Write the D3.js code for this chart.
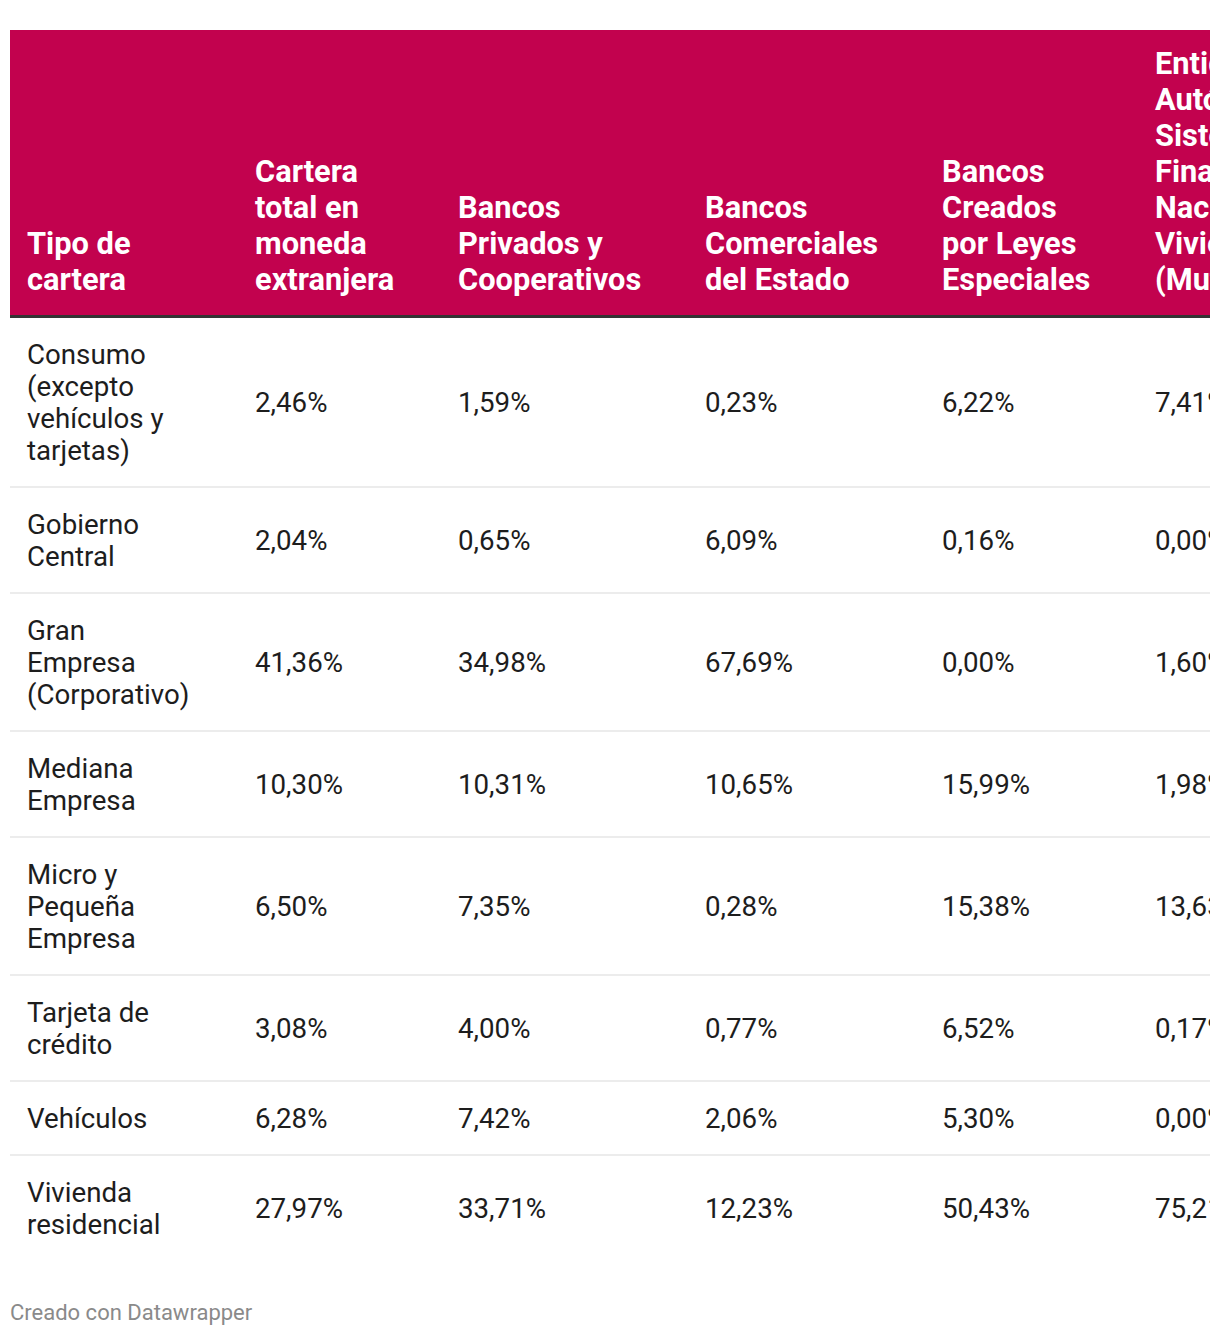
<!DOCTYPE html>
<html>
<head>
<meta charset="utf-8">
<script src="https://cdn.jsdelivr.net/npm/d3@7"></script>
<style>
  html, body { margin: 0; padding: 0; background: #fff; }
  body { width: 1220px; height: 1336px; position: relative; font-family: Roboto, "Noto Sans", sans-serif; overflow: hidden; }
  #wrap { position: absolute; left: 10px; top: 30px; width: 1200px; overflow: hidden; }
  table { border-collapse: collapse; table-layout: fixed; }
  th { background: #c2024e; color: #fff; font-weight: 700; font-size: 30.8px; line-height: 36px;
       text-align: left; vertical-align: bottom; padding: 16px 6px 17px 17px; border-bottom: 3px solid #333; }
  td { color: #1d1d1d; font-size: 27.7px; line-height: 32px; text-align: left; vertical-align: middle;
       padding: 21px 6px 19px 17px; border-bottom: 2px solid #ececec; }
  tr:last-child td { border-bottom: none; }
  #foot { position: absolute; left: 10px; top: 1300px; font-size: 22px; color: #8a8a8a; }
</style>
</head>
<body>
<div id="wrap"></div>
<div id="foot">Creado con Datawrapper</div>
<script>
// Column headers (lines as wrapped in the reference)
const headers = [
  ["Tipo de", "cartera"],
  ["Cartera", "total en", "moneda", "extranjera"],
  ["Bancos", "Privados y", "Cooperativos"],
  ["Bancos", "Comerciales", "del Estado"],
  ["Bancos", "Creados", "por Leyes", "Especiales"],
  ["Entidades", "Autónomas", "Sistema", "Financiero", "Nacional", "Vivienda", "(Mutualistas)"]
];
// Row categories (lines as wrapped)
const categories = [
  ["Consumo", "(excepto", "vehículos y", "tarjetas)"],
  ["Gobierno", "Central"],
  ["Gran", "Empresa", "(Corporativo)"],
  ["Mediana", "Empresa"],
  ["Micro y", "Pequeña", "Empresa"],
  ["Tarjeta de", "crédito"],
  ["Vehículos"],
  ["Vivienda", "residencial"]
];
// Series values (% share), one array per column
const carteraTotalME = ["2,46%", "2,04%", "41,36%", "10,30%", "6,50%", "3,08%", "6,28%", "27,97%"];
const bancosPrivados = ["1,59%", "0,65%", "34,98%", "10,31%", "7,35%", "4,00%", "7,42%", "33,71%"];
const bancosComercialesEstado = ["0,23%", "6,09%", "67,69%", "10,65%", "0,28%", "0,77%", "2,06%", "12,23%"];
const bancosLeyesEspeciales = ["6,22%", "0,16%", "0,00%", "15,99%", "15,38%", "6,52%", "5,30%", "50,43%"];
const mutualistas = ["7,41%", "0,00%", "1,60%", "1,98%", "13,63%", "0,17%", "0,00%", "75,21%"];

const series = [carteraTotalME, bancosPrivados, bancosComercialesEstado, bancosLeyesEspeciales, mutualistas];
const colWidths = [228, 203, 247, 237, 213, 240];

const table = d3.select("#wrap").append("table")
  .style("width", d3.sum(colWidths) + "px");
table.append("colgroup").selectAll("col").data(colWidths).join("col")
  .style("width", d => d + "px");

const headRow = table.append("thead").append("tr");
headRow.selectAll("th").data(headers).join("th")
  .html(d => d.join("<br>"));

const rows = categories.map((c, i) => [c.join("<br>")].concat(series.map(s => s[i])));
const tbody = table.append("tbody");
tbody.selectAll("tr").data(rows).join("tr")
  .selectAll("td").data(d => d).join("td")
  .html(d => d);
</script>
</body>
</html>
